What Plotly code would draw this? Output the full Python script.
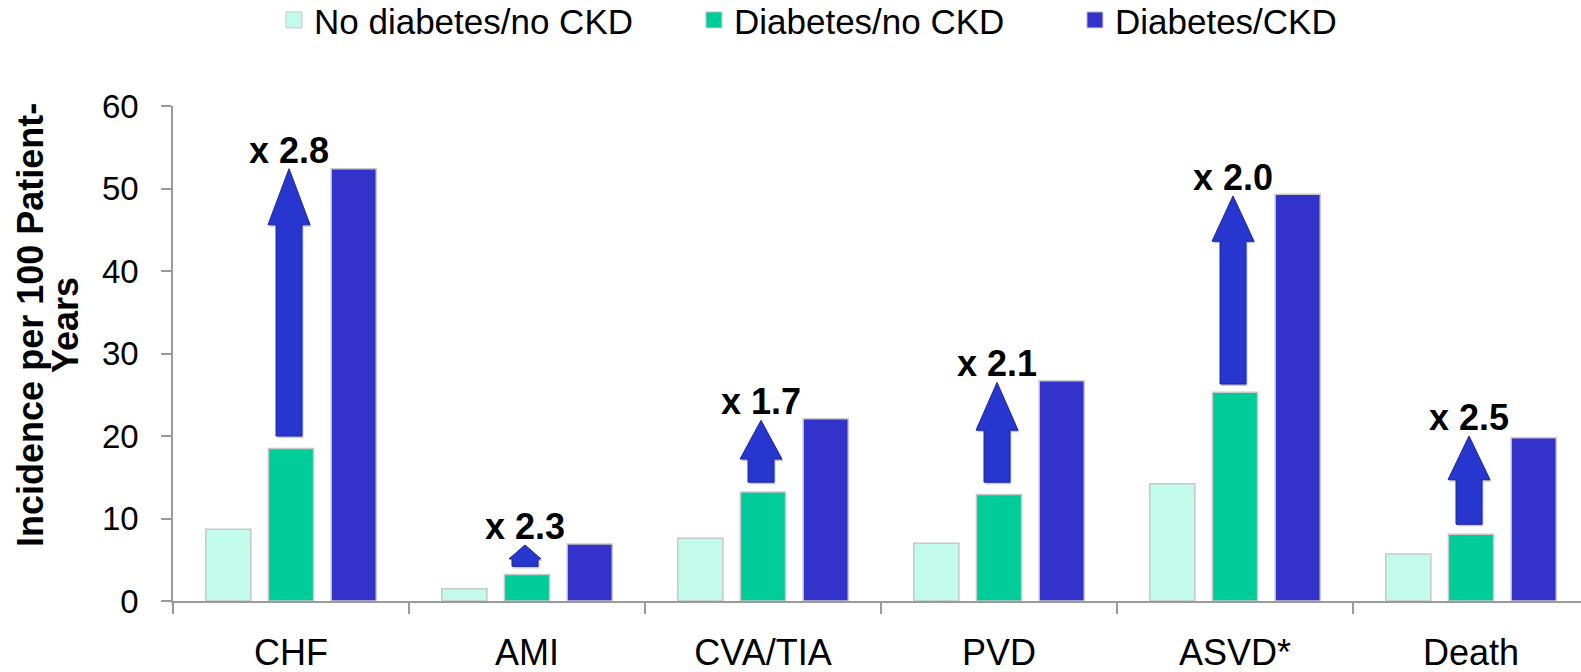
import plotly.graph_objects as go

# ---- data ----
categories = ["CHF", "AMI", "CVA/TIA", "PVD", "ASVD*", "Death"]
series_names = ["No diabetes/no CKD", "Diabetes/no CKD", "Diabetes/CKD"]
no_diab_no_ckd = [8.7, 1.5, 7.6, 7.0, 14.2, 5.7]
diab_no_ckd = [18.5, 3.2, 13.2, 12.9, 25.3, 8.1]
diab_ckd = [52.4, 6.9, 22.1, 26.7, 49.3, 19.8]
ratio_labels = ["x 2.8", "x 2.3", "x 1.7", "x 2.1", "x 2.0", "x 2.5"]
arrow_base = [20.0, 4.2, 14.4, 14.4, 26.3, 9.3]
arrow_head_base = [45.6, 5.1, 17.2, 20.7, 43.6, 14.7]
arrow_tip = [52.4, 6.8, 21.9, 26.5, 49.1, 20.0]
y_ticks = [0, 10, 20, 30, 40, 50, 60]
y_title_lines = ["Incidence per 100 Patient-", "Years"]

colors = ["#c2fbeb", "#00cc99", "#3333cc"]
FONT = "Liberation Sans, Arial, sans-serif"

fig = go.Figure()
series = [no_diab_no_ckd, diab_no_ckd, diab_ckd]
legends = ["legend", "legend2", "legend3"]
for name, vals, col in zip(series_names, series, colors):
    fig.add_trace(go.Bar(
        x=categories, y=vals, name=name, showlegend=False,
        marker=dict(color=col, line=dict(color="#c8c8c8", width=1.5)),
        hoverinfo="x+y+name",
    ))
# legend entries (square swatches)
for name, col, lg in zip(series_names, colors, legends):
    fig.add_trace(go.Scatter(
        x=[None], y=[None], mode="markers", name=name, legend=lg, showlegend=True,
        marker=dict(symbol="square", size=18, color=col,
                    line=dict(color="#c8c8c8", width=1)),
    ))

# ---- arrows (from green bar top up towards blue bar) ----
shaft_half = 13
for i, cat in enumerate(categories):
    b, hb, t = arrow_base[i], arrow_head_base[i], arrow_tip[i]
    head_half = 21 if (t - hb) > 3 else 16
    cx = -2
    def path(dx=0.0, dy=0.0):
        pts = [
            (cx - shaft_half + dx, b + dy), (cx + shaft_half + dx, b + dy),
            (cx + shaft_half + dx, hb + dy), (cx + head_half + dx, hb + dy),
            (cx + dx, t + dy), (cx - head_half + dx, hb + dy),
            (cx - shaft_half + dx, hb + dy),
        ]
        return "M " + " L ".join(f"{px},{py}" for px, py in pts) + " Z"
    fig.add_shape(type="path", xref="x", yref="y", xsizemode="pixel", xanchor=cat,
                  path=path(1.5, -0.25), fillcolor="rgba(0,0,40,0.22)",
                  line=dict(width=0))
    fig.add_shape(type="path", xref="x", yref="y", xsizemode="pixel", xanchor=cat,
                  path=path(), fillcolor="#2636cf",
                  line=dict(color="#1c279e", width=1))
    fig.add_annotation(x=cat, y=t, xref="x", yref="y", text=f"<b>{ratio_labels[i]}</b>",
                       showarrow=False, xanchor="center", yanchor="bottom", xshift=cx,
                       yshift=-4, font=dict(family=FONT, size=36, color="black"))

# ---- y axis title as two rotated lines ----
fig.add_annotation(x=-0.1009, y=0.5576, xref="paper", yref="paper",
                   text=f"<b>{y_title_lines[0]}</b>", textangle=-90, showarrow=False,
                   xanchor="center", yanchor="middle",
                   font=dict(family=FONT, size=36, color="black"))
fig.add_annotation(x=-0.0760, y=0.5576, xref="paper", yref="paper",
                   text=f"<b>{y_title_lines[1]}</b>", textangle=-90, showarrow=False,
                   xanchor="center", yanchor="middle",
                   font=dict(family=FONT, size=36, color="black"))

leg_common = dict(orientation="h", yanchor="middle", xanchor="left",
                  yref="container", y=0.970,
                  bgcolor="rgba(0,0,0,0)", font=dict(family=FONT, size=35, color="black"))

fig.update_layout(
    width=1581, height=672,
    margin=dict(l=173, r=0, t=106, b=71, autoexpand=False),
    paper_bgcolor="white", plot_bgcolor="white",
    barmode="group", bargap=0.203, bargroupgap=0.28,
    font=dict(family=FONT, color="black"),
    showlegend=True,
    legend=dict(x=0.0717, **leg_common),
    legend2=dict(x=0.3700, **leg_common),
    legend3=dict(x=0.6406, **leg_common),
    xaxis=dict(
        range=[-0.5, -0.5 + 1408 / 236], showgrid=False, zeroline=False,
        showline=True, linecolor="#9a9a9a", linewidth=1.5, automargin=False,
        ticks="outside", tickson="boundaries", ticklen=11, tickcolor="#9a9a9a",
        tickwidth=1.5, tickfont=dict(family=FONT, size=36, color="black"),
        ticklabelstandoff=19,
    ),
    yaxis=dict(
        range=[0, 60], tickvals=y_ticks, showgrid=False, zeroline=False,
        showline=True, linecolor="#9a9a9a", linewidth=1.5, automargin=False,
        ticks="outside", ticklen=10, tickcolor="#9a9a9a", tickwidth=1.5,
        tickfont=dict(family=FONT, size=33, color="black"),
        ticklabelstandoff=16,
    ),
)

fig.write_html("out.html", config={"displayModeBar": False},
               post_script="document.body.style.margin='0';")
